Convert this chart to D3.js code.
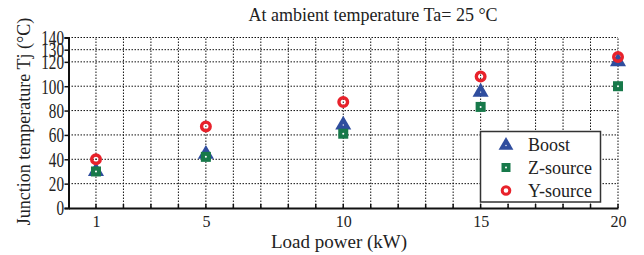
<!DOCTYPE html>
<html><head><meta charset="utf-8">
<script src="https://cdn.jsdelivr.net/npm/d3@7"></script>
<style>body{margin:0;background:#fff}svg{display:block}text{font-family:"Liberation Serif","Times New Roman",serif;fill:#222}</style>
</head><body><svg id="c" width="644" height="255"></svg>
<script>
const loads = [1, 5, 10, 15, 20];
const boost = [31, 45, 69, 96, 121];
const zsource = [30, 42, 61, 83, 100];
const ysource = [40, 67, 87, 108, 124];
const xTicks = [1, 5, 10, 15, 20];
const yTicks = [0, 20, 40, 60, 80, 100, 120, 130, 140];
const seriesNames = ["Boost", "Z-source", "Y-source"];
const title = "At ambient temperature Ta= 25 °C";
const xLabel = "Load power (kW)";
const yLabel = "Junction temperature Tj (°C)";

const FONT = "'Liberation Serif', 'Times New Roman', serif";
const svg = d3.select("#c");
const x = d3.scaleLinear().domain([0, 20]).range([68.5, 618]);
const y = d3.scaleLinear().domain([0, 140]).range([208, 37.5]);
const blue = "#2f4d9e", green = "#17794a", red = "#e8222b";

// grid
const g = svg.append("g");
g.selectAll("line.vg").data(d3.range(1, 21)).join("line")
  .attr("x1", d => x(d)).attr("x2", d => x(d)).attr("y1", y(0)).attr("y2", y(140))
  .attr("stroke", "#111").attr("stroke-width", 1).attr("stroke-dasharray", "1.5,1.5");
g.selectAll("line.hg").data(yTicks.filter(d => d > 0)).join("line")
  .attr("x1", x(0)).attr("x2", x(20)).attr("y1", d => y(d)).attr("y2", d => y(d))
  .attr("stroke", "#111").attr("stroke-width", 1).attr("stroke-dasharray", "1.5,1.5");

// axes
const xAxis = d3.axisBottom(x).tickValues(xTicks).tickSize(0).tickPadding(8).tickFormat(d3.format("d"));
const xa = svg.append("g").attr("transform", `translate(0,${y(0)})`).call(xAxis);
xa.select(".domain").attr("stroke", "#111").attr("stroke-width", 2);
xa.selectAll("text").attr("font-size", 16).attr("font-family", FONT).attr("fill", "#222");
// minor ticks on bottom axis
svg.append("g").selectAll("line").data(d3.range(1, 21)).join("line")
  .attr("x1", d => x(d)).attr("x2", d => x(d)).attr("y1", y(0)).attr("y2", y(0) - 4)
  .attr("stroke", "#111").attr("stroke-width", 1.5);

const sx = 0.76;
const yAxis = d3.axisLeft(y).tickValues(yTicks).tickSize(4).tickPadding(1);
const ya = svg.append("g").attr("transform", `translate(${x(0)},0)`).call(yAxis);
ya.select(".domain").attr("stroke", "#111").attr("stroke-width", 2);
ya.selectAll(".tick line").attr("stroke", "#111").attr("stroke-width", 1.5);
ya.selectAll("text").attr("font-size", 20).attr("font-family", FONT).attr("fill", "#222")
  .attr("x", -4.5 / sx).attr("dy", "0.34em").attr("transform", `scale(${sx},1)`);

// markers
const data = [boost, zsource, ysource];
function drawMarker(sel, i, legend) {
  if (i === 0) {
    sel.append("path").attr("d", d3.symbol().type(d3.symbolTriangle).size(legend ? 95 : 112)())
      .attr("transform", "translate(0,1)").attr("fill", blue);
    sel.append("circle").attr("r", 0.7).attr("cy", 1).attr("fill", "#fff");
  } else if (i === 1) {
    const s = legend ? 9 : 10;
    sel.append("rect").attr("x", -s / 2).attr("y", -s / 2).attr("width", s).attr("height", s).attr("fill", green);
    sel.append("circle").attr("r", 1).attr("fill", "#fff");
  } else {
    const r = legend ? 3.8 : 4.3;
    sel.append("circle").attr("r", r).attr("fill", "none").attr("stroke", red).attr("stroke-width", legend ? 3 : 3.4);
  }
}
data.forEach((vals, i) => {
  svg.append("g").selectAll("g").data(vals.map((v, k) => [loads[k], v])).join("g")
    .attr("transform", d => `translate(${x(d[0])},${y(d[1])})`)
    .each(function () { drawMarker(d3.select(this), i, false); });
});

// legend
const lg = svg.append("g");
lg.append("rect").attr("x", 480.5).attr("y", 131.5).attr("width", 120).attr("height", 70.5)
  .attr("fill", "#fff").attr("stroke", "#333").attr("stroke-width", 1.5);
seriesNames.forEach((n, i) => {
  const yy = 144.5 + i * 23;
  const m = lg.append("g").attr("transform", `translate(506,${yy})`);
  drawMarker(m, i, true);
  lg.append("text").attr("x", 528).attr("y", yy + 6.3).attr("font-size", 18)
    .attr("font-family", FONT).attr("fill", "#222").text(n);
});

// titles
svg.append("text").attr("x", 373).attr("y", 20.5).attr("text-anchor", "middle").attr("font-size", 18)
  .attr("font-family", FONT).attr("fill", "#222").text(title);
svg.append("text").attr("x", 339).attr("y", 248).attr("text-anchor", "middle").attr("font-size", 19)
  .attr("font-family", FONT).attr("fill", "#222").text(xLabel);
svg.append("text").attr("transform", "translate(30,121.5) rotate(-90)").attr("text-anchor", "middle").attr("font-size", 18)
  .attr("font-family", FONT).attr("fill", "#222").text(yLabel);
</script></body></html>
